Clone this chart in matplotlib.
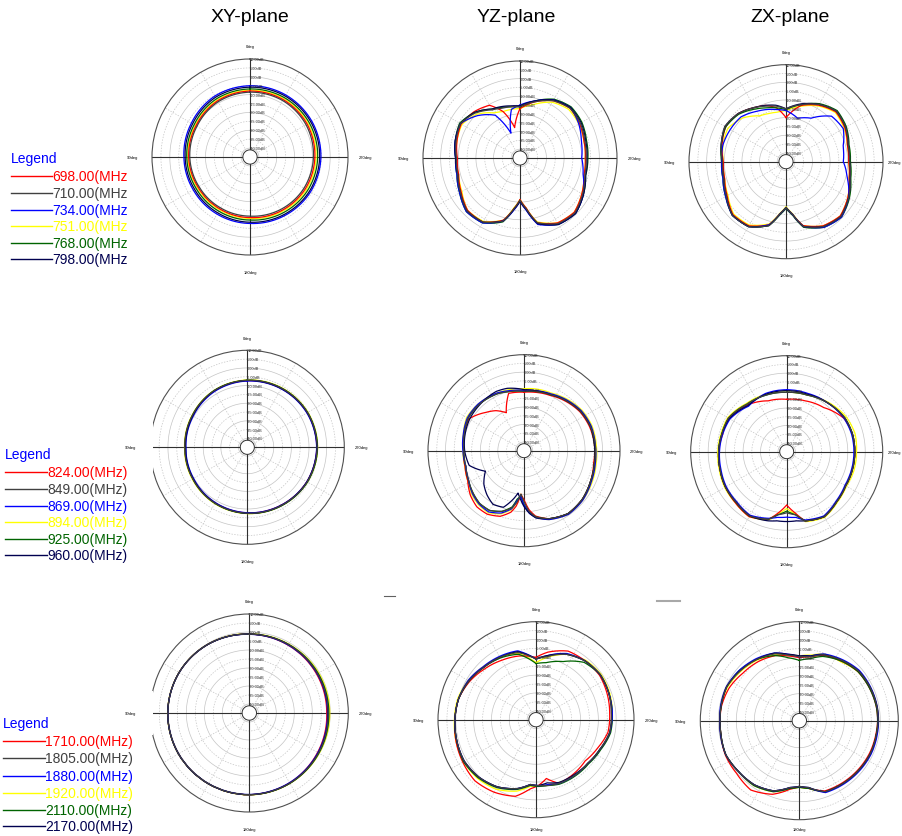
import numpy as np
import matplotlib
matplotlib.use("Agg")
import matplotlib.pyplot as plt
from matplotlib.lines import Line2D
from matplotlib.patches import Rectangle

plt.rcParams["font.family"] = ["Liberation Sans", "DejaVu Sans"]

W, H = 903, 837

PLANES = ["XY-plane", "YZ-plane", "ZX-plane"]
FREQ_700 = ["698.00", "710.00", "734.00", "751.00", "768.00", "798.00"]
FREQ_900 = ["824.00", "849.00", "869.00", "894.00", "925.00", "960.00"]
FREQ_2000 = ["1710.00", "1805.00", "1880.00", "1920.00", "2110.00", "2170.00"]
COLORS = ["#ff0000", "#404040", "#0000ff", "#ffff00", "#006400", "#000050"]
DB_TICKS = [10, 5, 0, -5, -10, -15, -20, -25, -30, -35, -40]

# gain in dB per series (red, black, blue, yellow, green, navy), angle in deg
ANG_30 = [0, 30, 60, 90, 120, 150, 180, 210, 240, 270, 300, 330]

XY_700 = [
    [-8.0, -8.6, -10.0, -10.6, -11.3, -11.3, -11.0, -10.1, -9.2, -8.6, -8.0, -7.8],
    [-8.6, -9.2, -10.6, -11.2, -11.9, -12.0, -11.8, -10.9, -10.0, -9.4, -8.7, -8.4],
    [-5.0, -5.5, -7.0, -7.9, -8.2, -8.0, -7.7, -6.8, -5.8, -5.2, -4.9, -4.8],
    [-7.5, -8.1, -9.5, -10.2, -10.8, -10.8, -10.5, -9.5, -8.5, -7.9, -7.4, -7.2],
    [-6.8, -7.3, -8.8, -9.5, -10.0, -9.9, -9.6, -8.6, -7.6, -7.0, -6.6, -6.5],
    [-5.8, -6.3, -7.8, -8.6, -9.0, -8.8, -8.4, -7.5, -6.5, -5.9, -5.6, -5.5],
]

ANG_YZ_700 = [0, 10, 20, 30, 45, 60, 75, 90, 105, 120, 135, 150, 165, 173,
              180, 187, 195, 210, 225, 240, 255, 270, 285, 300, 315, 330, 345]
YZ_700 = [
    [-17, -27.5, -17, -10.5, -8, -6.5, -8, -9.5, -9, -6.5, -3, -3, -8.5, -16,
     -21.5, -16.5, -7, -2.5, -1.5, -4.5, -7.5, -8, -7.5, -6, -5, -7.5, -12],
    [-16, -15.5, -15, -13.5, -9, -6, -7.5, -9, -8.5, -6, -2.5, -3, -8, -16,
     -21, -16, -7, -2, -1, -4, -7, -7.5, -7, -5.5, -5, -7.5, -12],
    [-15, -17, -30, -17, -11, -6, -7, -8.5, -8, -5.5, -2, -2.5, -8, -15,
     -20.5, -15, -6, -1.5, -0.5, -3.5, -8, -10, -9, -6.5, -4.5, -7, -11.5],
    [-17, -17, -17, -15.5, -10, -7, -8, -9, -9, -7, -3, -3.5, -8.5, -16.5,
     -21.5, -16.5, -7.5, -2.5, -1.5, -4.5, -7.5, -8, -7.5, -6.5, -6, -8.5, -13.5],
    [-16, -15.5, -14.5, -13, -8.5, -5.5, -7, -8.5, -8, -5.5, -2, -2.5, -7.5, -15.5,
     -21, -15.5, -6.5, -1.5, -0.5, -3.5, -6.5, -6.5, -6, -4.5, -4, -6.5, -11.5],
    [-15.5, -15, -14, -13, -8.5, -6, -7, -8.5, -8.5, -6, -2.5, -3, -8, -15.5,
     -20.5, -15.5, -6.5, -1.5, -0.5, -3.5, -6.5, -7, -6.5, -5, -4.5, -7, -11.5],
]

ANG_ZX_700 = ANG_YZ_700
ZX_700 = [
    [-20, -14, -11, -9.5, -6.5, -5.5, -7.5, -9.5, -9, -6.5, -2.5, -3, -8, -15,
     -19, -15, -7.5, -3, -1.5, -4.5, -8, -9.5, -9, -6.5, -5, -8, -12],
    [-15, -13, -11.5, -9.5, -6.5, -5, -7, -9, -8.5, -6, -2, -2.5, -7.5, -15,
     -19, -15, -7, -2.5, -1, -4, -7.5, -9, -8.5, -6, -4.5, -7.5, -11.5],
    [-16, -15, -13.5, -12, -9, -8.5, -8, -8.5, -8, -5.5, -2, -2.5, -8, -15,
     -19, -15, -7, -2, -0.5, -4, -9, -12.5, -11.5, -7.5, -8.5, -16.5, -19.5],
    [-16, -16.5, -16, -15, -10, -7, -8, -9.5, -9, -7, -3, -3.5, -8.5, -15.5,
     -19.5, -15.5, -7.5, -3, -1.5, -4.5, -8, -9.5, -9, -7, -5.5, -8.5, -12.5],
    [-15.5, -14, -12.5, -10.5, -7, -5.5, -7, -8.5, -8, -5.5, -2, -2.5, -7.5, -14.5,
     -18.5, -14.5, -6.5, -2, -0.5, -3.5, -7, -8.5, -8, -5.5, -4, -7, -11.5],
    [-15, -12.5, -11, -9.5, -6.5, -5, -7, -9, -8.5, -6, -2, -2.5, -7.5, -15,
     -19, -15, -7, -2.5, -1, -4, -7.5, -9, -8.5, -6, -4.5, -7.5, -11],
]

XY_900 = [
    [-7.2, -8.0, -9.2, -9.8, -9.5, -8.6, -7.8, -7.0, -6.0, -5.6, -5.8, -6.5],
    [-7.0, -7.8, -9.0, -9.6, -9.3, -8.4, -7.6, -6.8, -5.8, -5.4, -5.6, -6.3],
    [-7.4, -8.3, -9.6, -10.2, -9.8, -8.8, -7.9, -7.0, -6.0, -5.7, -6.0, -6.7],
    [-6.8, -7.6, -8.8, -9.4, -9.0, -8.1, -7.4, -6.6, -5.6, -5.1, -5.3, -6.0],
    [-7.0, -7.7, -9.0, -9.7, -9.3, -8.3, -7.5, -6.6, -5.6, -5.2, -5.5, -6.2],
    [-7.1, -7.9, -9.3, -10.0, -9.5, -8.5, -7.6, -6.8, -5.9, -5.5, -5.7, -6.5],
]

ANG_YZ_900 = [0, 15, 25, 35, 45, 60, 75, 90, 105, 118, 130, 140, 150, 160, 168,
              172, 176, 180, 185, 190, 200, 215, 230, 245, 260, 275, 290, 305,
              320, 335, 350]
YZ_900 = [
    [-11.5, -11, -21, -17, -14, -8.5, -9.5, -10.5, -10, -8.5, -5, -3, -3, -5, -9,
     -13, -20, -17, -11, -7, -3.5, -1, -1.5, -3, -4.5, -4.5, -5, -6, -8, -10, -11],
    [-11, -10, -9, -8.5, -8, -8, -9.5, -10.5, -10.5, -9, -7, -5.5, -5.5, -8, -11.5,
     -15, -20, -16, -10, -6.5, -3.5, -1, -1.5, -3, -4, -4, -4.5, -5.5, -7.5, -9.5, -10.5],
    [-10.5, -9.5, -8.5, -8, -7.5, -7.5, -9, -10, -10.5, -9, -6.5, -5, -4.5, -7, -11,
     -16, -19, -14, -9, -6, -3, -0.5, -1, -2.5, -3.5, -4, -4, -5, -7, -9, -10],
    [-9.5, -9, -8.5, -8, -7.5, -7, -9, -10, -10, -8.5, -6, -4.5, -4, -6.5, -10.5,
     -15, -20, -15, -9.5, -6, -3, -0.5, -1, -2, -3, -3.5, -3.5, -4.5, -6.5, -8.5, -9],
    [-11, -10, -9, -8.5, -8, -8, -9.5, -10.5, -10.5, -9, -7, -5.5, -5.5, -8, -12,
     -17, -19, -14, -9.5, -6.5, -3.5, -1, -1.5, -3, -4, -4.5, -4.5, -5.5, -7.5, -9.5, -10.5],
    [-10, -8, -7.5, -8, -8.5, -9, -10, -11, -12.5, -20, -15, -12, -9.5, -10.5, -17,
     -20.5, -17, -13, -9, -6, -3.5, -1, -1.5, -3, -4, -4.5, -4.5, -5.5, -7.5, -9.5, -10],
]

ANG_ZX_900 = [0, 20, 40, 60, 75, 90, 105, 120, 135, 150, 165, 172, 180, 188,
              195, 210, 225, 240, 255, 270, 285, 300, 320, 340]
ZX_900 = [
    [-15, -14, -10, -6.5, -7, -6, -5.5, -4.5, -3.5, -2, -5, -9.5, -14.5, -9.5,
     -4, -2, -4.5, -6, -6, -6, -6, -7, -12, -14],
    [-11, -10.5, -9.5, -6.5, -6.5, -6, -5.5, -4.5, -4, -2.5, -5, -8.5, -10, -8.5,
     -4, -2, -4.5, -6, -6, -6, -6, -6.5, -8.5, -10.5],
    [-9.5, -9.5, -11, -7.5, -7, -6.5, -6, -5, -4.5, -3, -5.5, -7, -7.5, -7,
     -4.5, -2.5, -5, -6.5, -6.5, -6.5, -6.5, -7, -8.5, -9.5],
    [-11, -10, -9, -6, -6, -5.5, -5, -4, -3.5, -2, -4.5, -9, -12.5, -9,
     -3.5, -1.5, -4, -5.5, -5, -5, -4.5, -5.5, -8, -10.5],
    [-11, -10.5, -9.5, -6.5, -6.5, -6, -5.5, -4.5, -4, -2.5, -5, -8.5, -11, -8.5,
     -4, -2, -4.5, -6, -6, -6, -6, -6.5, -8.5, -10.5],
    [-10, -10, -10.5, -7, -6.5, -6, -5.5, -4.5, -4, -2.5, -4, -5, -5, -5,
     -4, -2, -4.5, -6, -6, -6, -6, -6.5, -8.5, -10],
]

XY_2000 = [
    [-1.2, -0.5, 0, 0.3, 0.4, 0.4, 0.4, -0.2, -1.2, -2.0, -1.8, -1.6],
    [-1.2, -0.5, 0, 0.3, 0.4, 0.4, 0.4, 0, -0.6, -1.2, -1.2, -1.2],
    [-1.3, -0.5, 0, 0.3, 0.4, 0.4, 0.3, -0.3, -1.0, -1.6, -1.5, -1.5],
    [-1.0, -0.4, 0.1, 0.4, 0.5, 0.5, 0.5, 0.2, -0.2, -0.3, -0.5, -0.9],
    [-1.2, -0.5, 0, 0.3, 0.4, 0.4, 0.4, 0.1, -0.4, -0.8, -0.9, -1.1],
    [-1.2, -0.5, 0, 0.3, 0.4, 0.4, 0.4, 0, -0.7, -1.3, -1.2, -1.2],
]

ANG_YZ_2000 = [0, 15, 30, 45, 60, 75, 90, 105, 120, 135, 150, 165, 175, 182,
               190, 200, 215, 230, 245, 260, 275, 290, 305, 320, 335, 350]
YZ_2000 = [
    [-10, -8, -6.5, -4.5, -2, 0, 0.5, 1.5, 2.5, 3.5, 2, -0.5, -6, -8,
     -11.5, -7, -8, -9, -7, -4, -3.5, -2.5, -1.5, -2, -2.5, -6.5],
    [-11, -6, -4.5, -3.5, -1.5, 0, 0.5, 1, 1.5, 0.5, -1.5, -5, -8.5, -8,
     -7.5, -7, -7, -7, -5.5, -3, -2.5, -1.5, -1, -2, -4.5, -9],
    [-11, -5, -4, -3, -1, 0, 0.5, 1, 1.5, 0.5, -1.5, -5, -8.5, -8,
     -8, -7, -7, -7, -5.5, -3, -2, -1.5, -1, -2, -4, -8.5],
    [-13, -6.5, -4.5, -3, -1, 0.5, 0.8, 1.5, 2, 1.5, 0, -3.5, -7.5, -8,
     -8, -7.5, -7, -7, -5.5, -3, -2, -1, -0.5, -1.5, -4.5, -9.5],
    [-13.5, -7, -5, -3.5, -1.5, 0, 0.5, 1, 2, 1, -1, -4.5, -8, -7.5,
     -7.5, -6.5, -6.5, -6.5, -5, -2.5, -2, -1.5, -1, -3, -9, -12.5],
    [-11, -5.5, -4.5, -3.5, -1.5, 0, 0.5, 1, 1.5, 0.5, -1.5, -5, -8.5, -8,
     -9, -7.5, -7.5, -7, -5.5, -3, -2.5, -1.5, -1, -2, -4.5, -8.5],
]

ANG_ZX_2000 = [0, 10, 20, 35, 50, 65, 80, 90, 100, 115, 130, 145, 160, 172,
               180, 188, 200, 215, 230, 245, 260, 270, 280, 295, 310, 325, 340, 350]
ZX_2000 = [
    [-10, -8.5, -6.5, -5, -4, -2, -1, -1, -0.8, 0.3, 0.5, 2, -1.5, -6.5,
     -8.5, -7, -3.5, -3, -2.5, -2, -1.8, -1.5, -1.5, -2, -2.5, -4.5, -6.5, -9],
    [-9.5, -8, -5.5, -3.5, -2, -0.5, -0.8, -1, -0.8, 0, -1, -1.5, -3.5, -7.5,
     -8.5, -7.5, -3, -2.5, -2, -1.5, -1.5, -1.2, -1.2, -1.5, -2, -4, -6, -9],
    [-9.5, -7.5, -5, -3, -1.5, -0.3, -0.5, -0.8, -0.5, 0, -1, -1.5, -3.5, -7.5,
     -8.5, -7.5, -2.5, -2, -1.5, -1, -1, -1, -1, -1.2, -1.5, -3.5, -5.5, -8.5],
    [-9, -8, -6, -4, -2.5, -1, -0.8, -0.8, -0.5, 0, -1, -1, -3, -7,
     -8, -7, -3, -2.5, -2, -1.5, -1.5, -1, -1, -1.5, -2.5, -5, -5.5, -8],
    [-11.5, -9.5, -6.5, -3.5, -1.5, -0.5, -0.8, -1, -0.8, 0, -1, -1, -3, -7,
     -8, -7, -3, -2.5, -2, -1.5, -1.5, -1.5, -1.5, -2, -2.5, -4.5, -7, -10],
    [-9, -7.5, -5, -3.5, -2, -0.5, -0.8, -1, -0.8, 0, -1, -1.5, -3.5, -7.5,
     -8.5, -7.5, -3, -2.5, -2, -1.5, -1.5, -1.2, -1.2, -1.5, -2, -4, -6, -8.5],
]

fig = plt.figure(figsize=(W / 100, H / 100), dpi=100)


def fx(x):
    return x / W


def fy(y):
    return 1 - y / H


def pattern(cx, cy, R, angles, series, right_label=True, bottom_y=-0.085):
    ax = fig.add_axes([(cx - R) / W, 1 - (cy + R) / H, 2 * R / W, 2 * R / H],
                      projection="polar")
    ax.set_theta_zero_location("N")
    ax.set_theta_direction(1)
    ax.set_ylim(-45, 10)
    ax.set_xticks([])
    ax.set_yticks([])
    ax.grid(False)
    ax.spines["polar"].set_color("#505050")
    ax.spines["polar"].set_linewidth(0.8)

    full = np.linspace(0, 2 * np.pi, 361)
    for lvl in range(-40, 10, 5):
        ls = "-" if lvl % 10 == 0 else (0, (2, 2))
        ax.plot(full, np.full_like(full, lvl), color="#c4c4c4", lw=0.5, ls=ls, zorder=1)
    for a in range(0, 360, 30):
        t = np.deg2rad(a)
        if a % 90 == 0:
            ax.plot([t, t], [-41, 10], color="#303030", lw=0.8, zorder=1.5)
        else:
            ax.plot([t, t], [-41, 10], color="#c4c4c4", lw=0.5, ls=(0, (2, 2)), zorder=1)

    # series: draw yellow first so darker ones stay visible
    for i in [3, 0, 4, 2, 5, 1]:
        vals = list(series[i]) + [series[i][0]]
        th = np.deg2rad(list(angles) + [angles[0] + 360])
        ln, = ax.plot(th, vals, color=COLORS[i], lw=0.9, zorder=2)
        ln.get_path()._interpolation_steps = 20

    ax.fill(full, np.full_like(full, -41), facecolor="white", edgecolor="#303030",
            lw=0.7, zorder=3)
    for lvl in DB_TICKS:
        ax.text(0, lvl, f"{lvl:.2f}dB", fontsize=2.8, ha="left", va="center",
                color="#303030", zorder=4)

    ax.text(0.5, 1.065, "0deg", transform=ax.transAxes, fontsize=3, ha="center", va="center")
    ax.text(0.5, bottom_y, "180deg", transform=ax.transAxes, fontsize=3, ha="center", va="center")
    ax.text(-0.1, 0.5, "90deg", transform=ax.transAxes, fontsize=3, ha="center", va="center")
    if right_label is True:
        ax.text(1.088, 0.5, "270deg", transform=ax.transAxes, fontsize=3,
                ha="center", va="center")
    elif right_label:
        # plot sits against the right edge: keep the label inside the figure
        fig.text(fx(901), fy(cy), "270deg", fontsize=3, ha="right", va="center")
    return ax


def legend(x0, x1, y_title, ys, freqs, closed=True):
    fig.text(fx(x0), fy(y_title), "Legend", color="#0000ff", fontsize=10,
             ha="left", va="center")
    for f, c, y in zip(freqs, COLORS, ys):
        fig.add_artist(Line2D([fx(x0), fx(x1)], [fy(y), fy(y)], color=c, lw=1))
        label = f"{f}(MHz)" if closed else f"{f}(MHz"
        fig.text(fx(x1), fy(y), label, color=c, fontsize=10, ha="left", va="center")


for name, x in zip(PLANES, [250, 516, 790]):
    fig.text(fx(x), fy(18), name, fontsize=14, ha="center", va="center")

pattern(250, 158, 98, ANG_30, XY_700)
pattern(520, 159, 97, ANG_YZ_700, YZ_700)
pattern(786, 162.7, 97, ANG_ZX_700, ZX_700, right_label="edge")

pattern(247.3, 448.3, 97, ANG_30, XY_900)
pattern(524, 451.7, 96, ANG_YZ_900, YZ_900)
pattern(786.7, 452.7, 96, ANG_ZX_900, ZX_900, right_label="edge")

pattern(249.3, 714, 99, ANG_30, XY_2000)
pattern(536, 720.7, 98, ANG_YZ_2000, YZ_2000, bottom_y=-0.06)
pattern(799.3, 721.7, 99, ANG_ZX_2000, ZX_2000, right_label=False, bottom_y=-0.045)

# cropped edge of the left plots in the lower rows
for y0, y1 in [(421, 476), (692, 736)]:
    fig.add_artist(Rectangle((fx(139), fy(y1)), fx(153.5) - fx(139), fy(y0) - fy(y1),
                             facecolor="white", edgecolor="none", zorder=10))

legend(11, 52, 159, [177, 194, 211, 227, 244, 260], FREQ_700, closed=False)
legend(5, 47, 455, [473, 490, 507, 523, 540, 556], FREQ_900)
legend(3, 45, 724, [742, 759, 777, 794, 811, 827], FREQ_2000)

fig.add_artist(Line2D([fx(384), fx(395)], [fy(597), fy(597)], color="#606060", lw=0.8))
fig.add_artist(Line2D([fx(657), fx(680)], [fy(602), fy(602)], color="#a8a8a8", lw=1.5))

fig.savefig("out.png", dpi=100)
